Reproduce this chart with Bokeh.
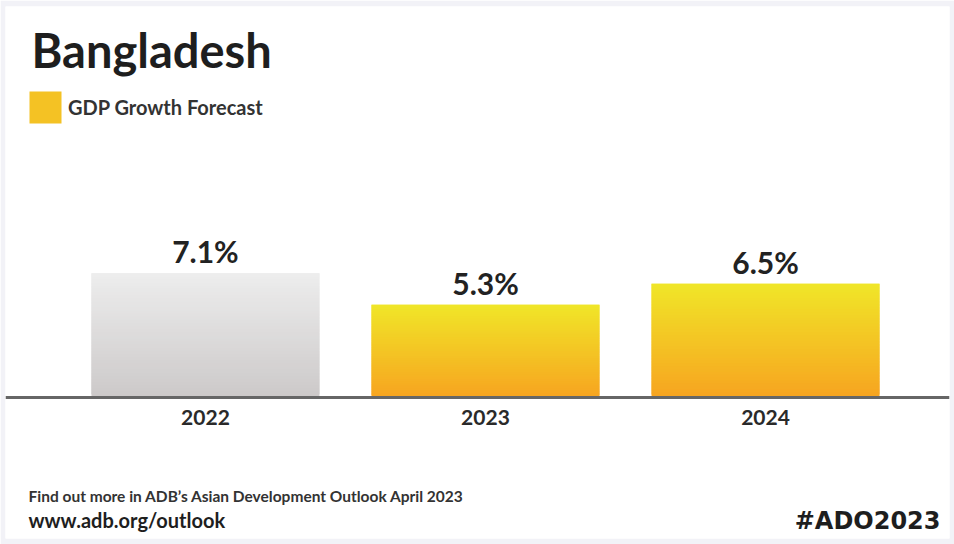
import numpy as np
from bokeh.plotting import figure
from bokeh.models import Range1d, Span, Label, Legend, LegendItem, ColumnDataSource
from bokeh.core.properties import value
from bokeh.embed import file_html
from bokeh.resources import INLINE

# ---- data ----
years = ["2022", "2023", "2024"]
growth = [7.1, 5.3, 6.5]
value_labels = ["7.1%", "5.3%", "6.5%"]
series_name = "GDP Growth Forecast"
title_text = "Bangladesh"
footer_line1 = "Find out more in ADB\u2019s Asian Development Outlook April 2023"
footer_line2 = "www.adb.org/outlook"
hashtag = "#ADO2023"

# ---- styles ----
FONT = "Lato"
W, H = 954, 544
gray_top, gray_bot = (237, 237, 237), (204, 201, 201)
yel_top, yel_bot = (240, 230, 40), (247, 164, 32)
N_STRIPS = 40


def mix(c1, c2, t):
    return "#%02x%02x%02x" % tuple(int(round(a + (b - a) * t)) for a, b in zip(c1, c2))


p = figure(width=W, height=H, output_backend="svg", toolbar_location=None,
           x_range=Range1d(-0.714, 2.657), y_range=Range1d(-8.06, 22.34),
           min_border_left=5, min_border_right=5, min_border_top=6, min_border_bottom=6)
p.axis.visible = False
p.grid.visible = False
p.outline_line_color = None
p.border_fill_color = "#f2f2f7"
p.background_fill_color = "#ffffff"

idx = np.arange(len(years))
vals = np.array(growth)

# gradient bars built from overlapping strips of each bar's own value
xs, bottoms, tops, colors = [], [], [], []
for i, v in zip(idx, vals):
    top_c, bot_c = (gray_top, gray_bot) if i == 0 else (yel_top, yel_bot)
    for k in range(N_STRIPS):
        xs.append(i)
        bottoms.append(v * k / N_STRIPS)
        tops.append(min(v, v * (k + 2) / N_STRIPS))
        colors.append(mix(bot_c, top_c, (k + 0.5) / N_STRIPS))
src = ColumnDataSource(dict(x=xs, bottom=bottoms, top=tops, color=colors))
p.vbar(x="x", bottom="bottom", top="top", width=0.814, fill_color="color",
       line_color=None, source=src)

# legend swatch renderer (zero-size bar used only for the legend glyph)
legend_r = p.vbar(x=[idx[1]], top=[0], bottom=[0], width=0.0,
                  fill_color=mix(yel_bot, yel_top, 0.45), line_color=None)

# baseline
p.add_layout(Span(location=0, dimension="width", line_color="#666666", line_width=3))

# value labels
p.text(x=idx, y=vals, text=value_labels, text_align="center", text_baseline="bottom",
       y_offset=-4, text_font=value(FONT), text_font_style="bold",
       text_font_size="30px", text_color="#222222")

# category labels
p.text(x=idx, y=[0] * len(idx), text=years, text_align="center", text_baseline="top",
       y_offset=13, text_font=value(FONT), text_font_style="bold",
       text_font_size="21px", text_color="#2a2a2a")

# title
p.add_layout(Label(x=26, y=538 - 49, x_units="screen", y_units="screen", text=title_text,
                   text_font=FONT, text_font_style="bold", text_font_size="47px",
                   text_color="#1e1e1e", text_baseline="alphabetic"))

# legend
legend = Legend(items=[LegendItem(label=series_name, renderers=[legend_r])],
                location=(20, 538 - 127), glyph_width=40, glyph_height=40,
                label_text_font=FONT, label_text_font_style="bold",
                label_text_font_size="20px", label_text_color="#333333",
                label_standoff=3, padding=0, margin=0, border_line_color=None,
                background_fill_alpha=0)
p.add_layout(legend, "center")

# footer
p.add_layout(Label(x=23, y=538 - 495, x_units="screen", y_units="screen", text=footer_line1,
                   text_font=FONT, text_font_style="bold", text_font_size="15.5px",
                   text_color="#333333", text_baseline="alphabetic"))
p.add_layout(Label(x=23, y=538 - 519, x_units="screen", y_units="screen", text=footer_line2,
                   text_font=FONT, text_font_style="bold", text_font_size="20px",
                   text_color="#1e1e1e", text_baseline="alphabetic"))
p.add_layout(Label(x=935, y=538 - 520, x_units="screen", y_units="screen", text=hashtag,
                   text_font="DejaVu Sans", text_font_style="bold", text_font_size="24px",
                   text_color="#1e1e1e", text_baseline="alphabetic", text_align="right"))

open("out.html", "w").write(file_html(p, INLINE))
